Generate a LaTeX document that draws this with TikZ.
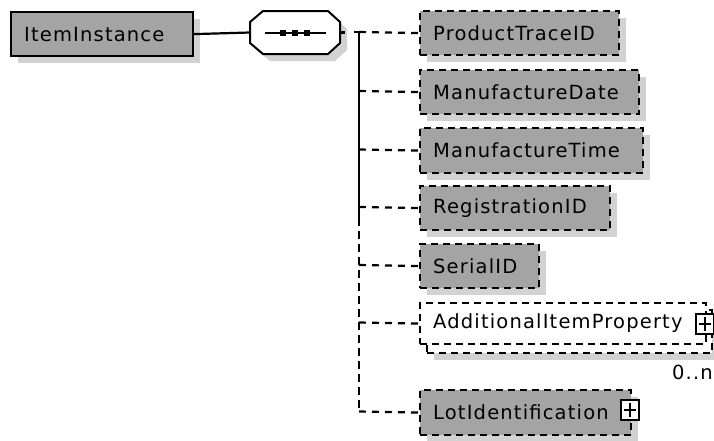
\documentclass[tikz,border=0pt]{standalone}
\usepackage{fontspec}
\setmainfont{DejaVu Sans}[LetterSpace=6]
\usetikzlibrary{calc,shadows}
\definecolor{boxg}{HTML}{A4A4A4}
\definecolor{shg}{HTML}{D2D2D2}
\tikzset{
  x=1pt, y=-1pt,
  lbl/.style={font=\fontsize{19.5}{22}\selectfont},
  shad/.style={drop shadow={shadow xshift=7pt, shadow yshift=-7pt, fill=shg, draw=none, opacity=1}},
  boxbase/.style={anchor=north west, inner sep=0pt, line width=2.2pt, draw=black},
  elem/.style={boxbase, fill=boxg, dash pattern=on 7pt off 5pt, shad},
  rootbox/.style={boxbase, fill=boxg, shad},
  multibox/.style={boxbase, fill=white, dash pattern=on 7pt off 5pt},
  txt/.style={label={[anchor=west, inner sep=0pt, xshift=14pt, lbl]west:#1}},
  conn/.style={line width=2.2pt, dash pattern=on 7pt off 6pt},
  tree/.style={line width=2.4pt},
  treedash/.style={line width=2.4pt, dash pattern=on 8pt off 5pt},
  plusbox/.style={draw=black, fill=white, line width=2pt, minimum width=18pt, minimum height=20pt, inner sep=0pt},
}
\begin{document}
\begin{tikzpicture}
\useasboundingbox[fill=white] (0,0) rectangle (714,440);

% root element
\node[rootbox, minimum width=182pt, minimum height=44pt, txt={ItemInstance}] (root) at (10,11) {};

% sequence compositor
\node[minimum width=90pt, minimum height=43pt, inner sep=0pt] (seq) at (295,32.5) {};
\fill[shg] (270,18) -- (335,18) -- (347,29) -- (347,50) -- (335,61) -- (270,61) -- (257,50) -- (257,29) -- cycle;
\draw[fill=white, line width=2pt] (263,11) -- (328,11) -- (340,22) -- (340,43) -- (328,54) -- (263,54) -- (250,43) -- (250,22) -- cycle;
\draw[line width=2pt] (265,32.5) -- (326,32.5);
\fill (280,29.5) rectangle +(6,6);
\fill (292,29.5) rectangle +(6,6);
\fill (304,29.5) rectangle +(6,6);

% children
\node[elem, minimum width=199pt, minimum height=44pt, txt={ProductTraceID}] (pt) at (419,10) {};
\node[elem, minimum width=219pt, minimum height=44pt, txt={ManufactureDate}] (md) at (419,69) {};
\node[elem, minimum width=223pt, minimum height=45pt, txt={ManufactureTime}] (mt) at (419,127) {};
\node[elem, minimum width=190pt, minimum height=44pt, txt={RegistrationID}] (rid) at (419,185) {};
\node[elem, minimum width=119pt, minimum height=44pt, txt={SerialID}] (sid) at (419,243) {};
\node[multibox, shad, minimum width=285pt, minimum height=43pt] (aipb) at (426,309) {};
\node[multibox, minimum width=286pt, minimum height=41pt, txt={AdditionalItemProperty}] (aip) at (419,302) {};
\node[elem, minimum width=211pt, minimum height=45pt, txt={LotIdentification}] (lot) at (419,389) {};

% expand boxes
\node[plusbox] (paip) at (705,324) {};
\draw[line width=2pt] ($(paip.center)+(-6,0)$) -- ($(paip.center)+(6,0)$) ($(paip.center)+(0,-7)$) -- ($(paip.center)+(0,7)$);
\node[plusbox] (plot) at (630,410) {};
\draw[line width=2pt] ($(plot.center)+(-6,0)$) -- ($(plot.center)+(6,0)$) ($(plot.center)+(0,-7)$) -- ($(plot.center)+(0,7)$);

% cardinality
\node[lbl, anchor=east, inner sep=0pt] (card) at (713,372) {0..n};

% tree junctions
\coordinate (j1) at (359,32);
\coordinate (j2) at (359,91);
\coordinate (j3) at (359,149.5);
\coordinate (j4) at (359,207);
\coordinate (jm) at (359,218);
\coordinate (j5) at (359,265);
\coordinate (j6) at (359,322.5);
\coordinate (j7) at (359,411.5);

% connectors
\draw[line width=2.2pt] (root.east) -- (seq.west);
\draw[line width=2.2pt] (seq.east) -- ++(5,0);
\draw[tree] ($(j1)+(-5,0)$) -- (j1);
\draw[tree] (j1) -- (jm);
\draw[treedash] (jm) -- (j7);
\draw[conn] (j1) -- (pt.west);
\draw[conn] (j2) -- (md.west);
\draw[conn] (j3) -- (mt.west);
\draw[conn] (j4) -- (rid.west);
\draw[conn] (j5) -- (sid.west);
\draw[conn] (j6) -- (aip.west);
\draw[conn] (j7) -- (lot.west);
\end{tikzpicture}
\end{document}
